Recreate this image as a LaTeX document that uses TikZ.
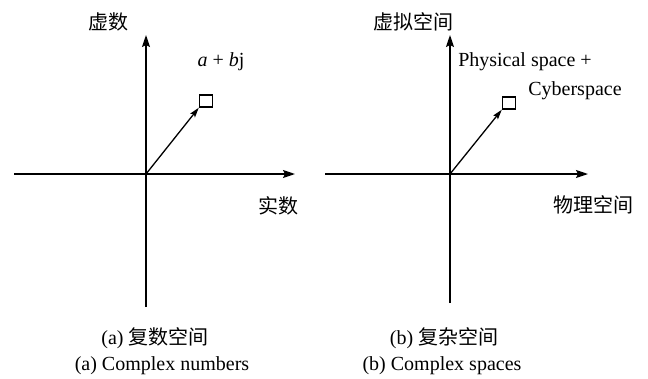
\documentclass[tikz,border=0pt]{standalone}
\usepackage{fontspec}
\setmainfont{Liberation Serif}
\newfontfamily\cjk{Noto Sans CJK SC}
\usetikzlibrary{arrows.meta, positioning}

\begin{document}
\begin{tikzpicture}[
    x=1pt, y=-1pt,
    axis/.style={-{Stealth[length=12pt, width=8pt, inset=2pt]}, line width=1.6pt},
    vec/.style={-{Stealth[length=10pt, width=6pt, inset=2pt]}, line width=1.3pt},
    point/.style={draw, line width=1.4pt, minimum width=13pt, minimum height=12pt, inner sep=0pt},
    txt/.style={font=\fontsize{20}{24}\selectfont, inner sep=0pt}
]
\useasboundingbox (0,0) rectangle (648,378);

% (a) complex numbers
\coordinate (o1) at (146,174);
\coordinate (w1) at (14,174);
\coordinate (e1) at (295,174);
\coordinate (n1) at (146,35);
\coordinate (s1) at (146,307);
\draw[axis] (w1) -- (e1);
\draw[axis] (s1) -- (n1);
\node[point] (p1) at (206,101) {};
\draw[vec] (o1) -- (p1.south west);

\node[txt] (im1) at (108,22) {\cjk 虚数};
\node[txt] (z1) at (221,62) {\textit{a} + \textit{b}j};
\node[txt] (re1) at (278,206) {\cjk 实数};
\node[txt] (cap1) at (155,338) {(a) {\cjk 复数空间}};
\node[txt] (en1) at (162,366) {(a) Complex numbers};

% (b) complex spaces
\coordinate (o2) at (450,174);
\coordinate (w2) at (325,174);
\coordinate (e2) at (588,174);
\coordinate (n2) at (450,35);
\coordinate (s2) at (450,303);
\draw[axis] (w2) -- (e2);
\draw[axis] (s2) -- (n2);
\node[point] (p2) at (509,103) {};
\draw[vec] (o2) -- (p2.south west);

\node[txt] (im2) at (413,22) {\cjk 虚拟空间};
\node[txt] (ps) at (525,62) {Physical space +};
\node[txt] (cs) at (575,91) {Cyberspace};
\node[txt] (re2) at (593,205) {\cjk 物理空间};
\node[txt] (cap2) at (444,338) {(b) {\cjk 复杂空间}};
\node[txt] (en2) at (442,366) {(b) Complex spaces};
\end{tikzpicture}
\end{document}
